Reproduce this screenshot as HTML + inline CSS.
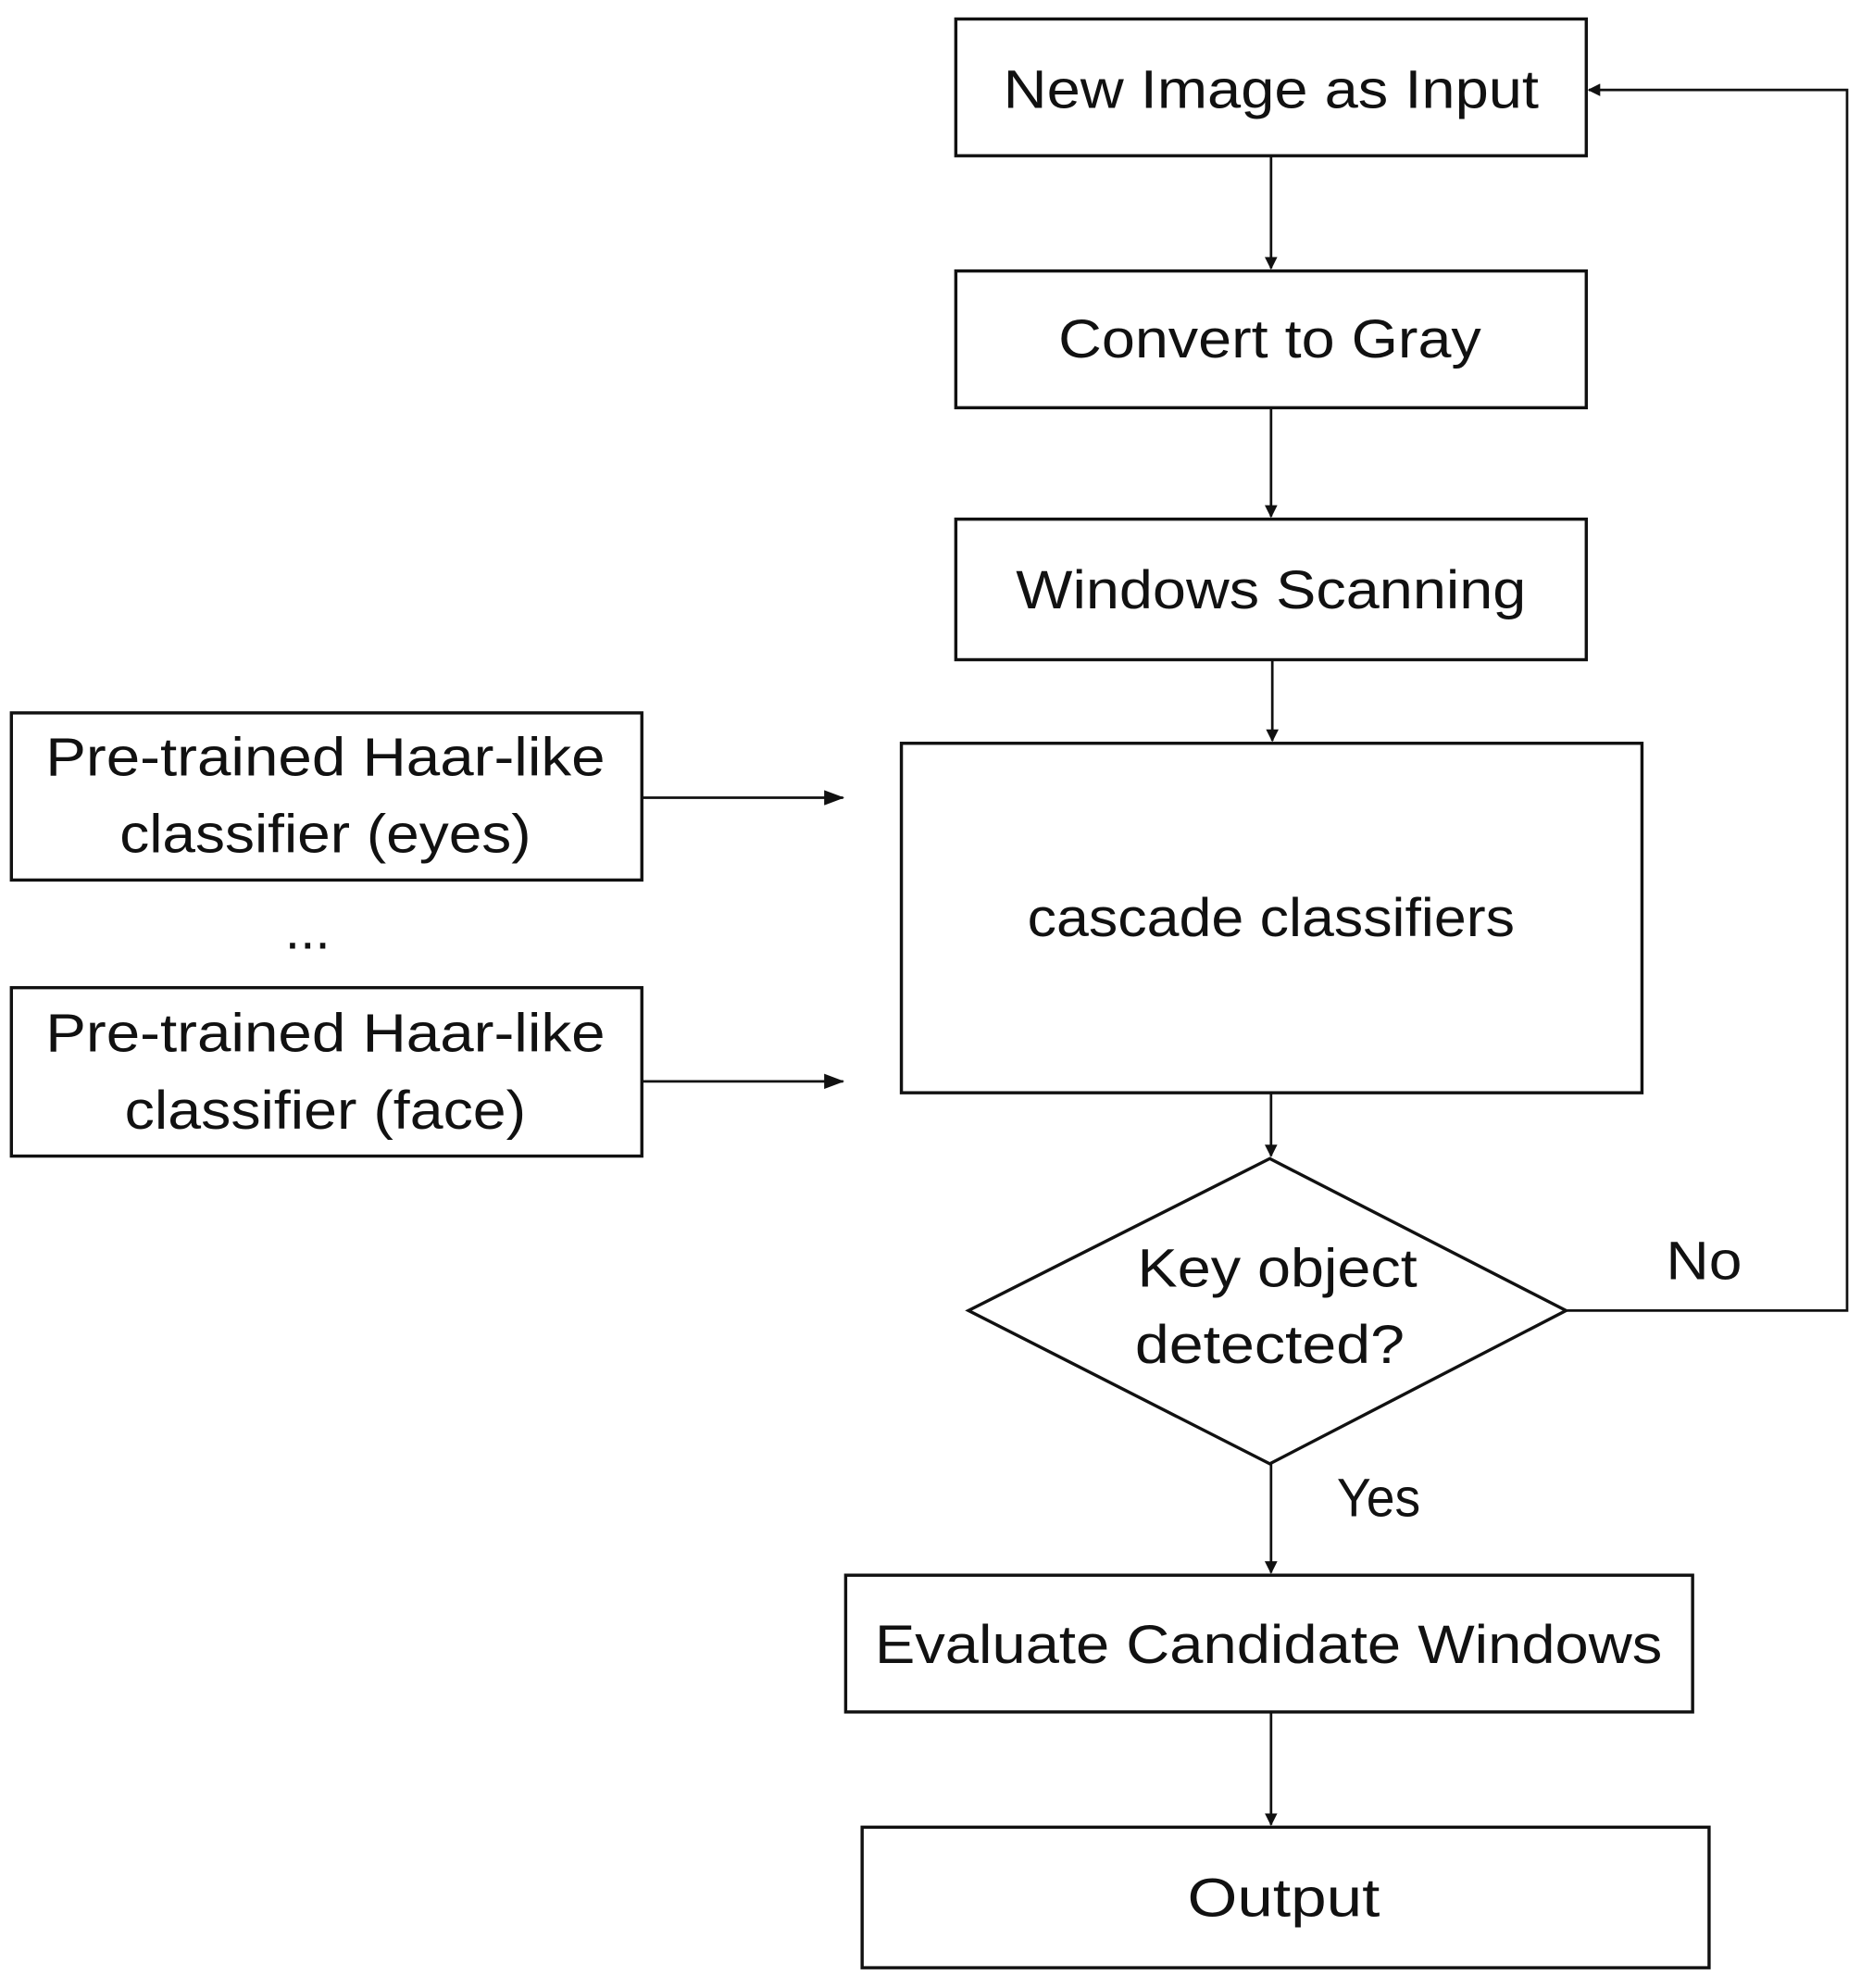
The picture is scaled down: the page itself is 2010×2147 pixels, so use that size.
<!DOCTYPE html>
<html><head><meta charset="utf-8"><style>
html,body{margin:0;padding:0;background:#fff;}
svg{display:block;}
text{font-family:"Liberation Sans",sans-serif;font-size:43px;fill:#111;text-anchor:middle;dominant-baseline:central;}
</style></head><body>
<svg width="2010" height="2147" viewBox="0 0 1470 1570" preserveAspectRatio="none" xmlns="http://www.w3.org/2000/svg">
<defs><marker id="a" markerWidth="10" markerHeight="10" refX="9" refY="5" orient="auto" markerUnits="userSpaceOnUse"><path d="M0,0 L10,5 L0,10 z" fill="#111"/></marker>
<marker id="b" markerWidth="16" markerHeight="12" refX="15" refY="6" orient="auto" markerUnits="userSpaceOnUse"><path d="M0,0 L16,6 L0,12 z" fill="#111"/></marker></defs>
<g fill="none" stroke="#111" stroke-width="2.5">
<rect x="755" y="15" width="498" height="108"/>
<rect x="755" y="214" width="498" height="108"/>
<rect x="755" y="410" width="498" height="111"/>
<rect x="712" y="587" width="585" height="276"/>
<rect x="9" y="563" width="498" height="132"/>
<rect x="9" y="780" width="498" height="133"/>
<polygon points="765,1035 1003,915 1237,1035 1003,1156"/>
<rect x="668" y="1244" width="669" height="108"/>
<rect x="681" y="1443" width="669" height="111"/>
</g>
<g stroke="#111" stroke-width="2" fill="none">
<line x1="1004" y1="123" x2="1004" y2="212" marker-end="url(#a)"/>
<line x1="1004" y1="322" x2="1004" y2="408" marker-end="url(#a)"/>
<line x1="1005" y1="521" x2="1005" y2="585" marker-end="url(#a)"/>
<line x1="1004" y1="863" x2="1004" y2="913" marker-end="url(#a)"/>
<line x1="1004" y1="1156" x2="1004" y2="1242" marker-end="url(#a)"/>
<line x1="1004" y1="1352" x2="1004" y2="1441" marker-end="url(#a)"/>
<line x1="507" y1="630" x2="666" y2="630" marker-end="url(#b)"/>
<line x1="507" y1="854" x2="666" y2="854" marker-end="url(#b)"/>
<polyline points="1237,1035 1459,1035 1459,71 1255,71" marker-end="url(#a)"/>
</g>
<g style="" >
<text x="1004" y="71" textLength="423" lengthAdjust="spacingAndGlyphs">New Image as Input</text>
<text x="1003" y="268" textLength="334" lengthAdjust="spacingAndGlyphs">Convert to Gray</text>
<text x="1004" y="466" textLength="403" lengthAdjust="spacingAndGlyphs">Windows Scanning</text>
<text x="1004" y="725" textLength="385" lengthAdjust="spacingAndGlyphs">cascade classifiers</text>
<text x="257" y="598" textLength="442" lengthAdjust="spacingAndGlyphs">Pre-trained Haar-like</text>
<text x="257" y="659" textLength="325" lengthAdjust="spacingAndGlyphs">classifier (eyes)</text>
<text x="243" y="735">...</text>
<text x="257" y="816" textLength="442" lengthAdjust="spacingAndGlyphs">Pre-trained Haar-like</text>
<text x="257" y="877" textLength="317" lengthAdjust="spacingAndGlyphs">classifier (face)</text>
<text x="1009" y="1002" textLength="221" lengthAdjust="spacingAndGlyphs">Key object</text>
<text x="1003" y="1062" textLength="213" lengthAdjust="spacingAndGlyphs">detected?</text>
<text x="1346" y="996" textLength="60" lengthAdjust="spacingAndGlyphs">No</text>
<text x="1089" y="1183" textLength="66" lengthAdjust="spacingAndGlyphs">Yes</text>
<text x="1002" y="1299" textLength="622" lengthAdjust="spacingAndGlyphs">Evaluate Candidate Windows</text>
<text x="1014" y="1499" textLength="152" lengthAdjust="spacingAndGlyphs">Output</text>
</g>
</svg>
</body></html>
